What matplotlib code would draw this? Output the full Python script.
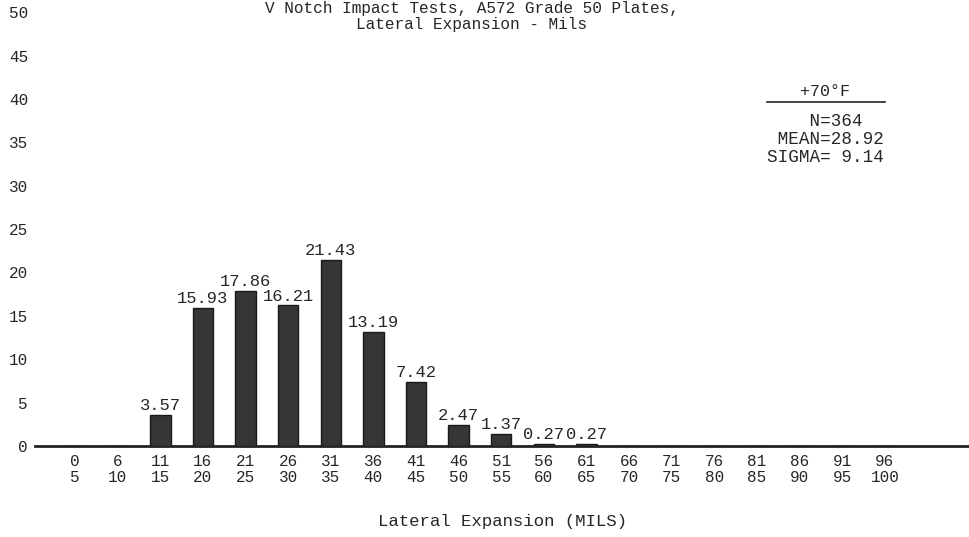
import numpy as np
import matplotlib.pyplot as plt

# Lateral expansion histogram, A572 Grade 50 plates at +70F
bin_low = [0, 6, 11, 16, 21, 26, 31, 36, 41, 46, 51, 56, 61, 66, 71, 76, 81, 86, 91, 96]
bin_high = [5, 10, 15, 20, 25, 30, 35, 40, 45, 50, 55, 60, 65, 70, 75, 80, 85, 90, 95, 100]
percent = [0, 0, 3.57, 15.93, 17.86, 16.21, 21.43, 13.19, 7.42, 2.47, 1.37, 0.27, 0.27,
           0, 0, 0, 0, 0, 0, 0]
y_ticks = [0, 5, 10, 15, 20, 25, 30, 35, 40, 45, 50]

ink = '#262626'
plt.rcParams['font.family'] = ['Liberation Mono', 'DejaVu Sans Mono']

W, H = 970, 537
fig = plt.figure(figsize=(W / 100, H / 100), dpi=100)
ax = fig.add_axes([35 / W, (H - 446) / H, 1 - 35 / W, 446 / H])

x = np.arange(len(percent))
bars = ax.bar(x, percent, width=0.48, color='#363636', edgecolor='#1a1a1a',
              linewidth=1.0, zorder=3)

for xi, v in zip(x, percent):
    if v > 0:
        ax.text(xi, v + 0.2, f'{v:.2f}', ha='center', va='bottom',
                fontsize=12.3, color=ink, zorder=2)

ax.set_xlim(-0.94, 21.0)
ax.set_ylim(0, 51.4)
ax.set_xticks(x)
ax.set_xticklabels([f'{a}\n{b}' for a, b in zip(bin_low, bin_high)],
                   linespacing=1.05)
ax.set_yticks(y_ticks)
ax.tick_params(axis='x', length=0, pad=6, labelsize=11.5, colors=ink)
ax.tick_params(axis='y', length=0, pad=5, labelsize=11.5, colors=ink)

for side in ['top', 'right', 'left']:
    ax.spines[side].set_visible(False)
ax.spines['bottom'].set_linewidth(2.0)
ax.spines['bottom'].set_color('#222222')

ax.set_xlabel('Lateral Expansion (MILS)', fontsize=12.5, color=ink, labelpad=21)

# title sits at the very top edge
fig.text(472 / W, 1 - 9 / H, 'V Notch Impact Tests, A572 Grade 50 Plates,',
         ha='center', va='center', fontsize=11.6, color=ink)
fig.text(472 / W, 1 - 25 / H, 'Lateral Expansion - Mils',
         ha='center', va='center', fontsize=11.6, color=ink)

# temperature block
fig.text(825 / W, 1 - 92 / H, '+70°F', ha='center', va='center',
         fontsize=12, color=ink)
fig.add_artist(plt.Line2D([767 / W, 885 / W], [1 - 102 / H, 1 - 102 / H],
                          color=ink, linewidth=1.2))
fig.text(767 / W, 1 - 121 / H, '    N=364', ha='left', va='center',
         fontsize=12.7, color=ink)
fig.text(767 / W, 1 - 139 / H, ' MEAN=28.92', ha='left', va='center',
         fontsize=12.7, color=ink)
fig.text(767 / W, 1 - 157 / H, 'SIGMA= 9.14', ha='left', va='center',
         fontsize=12.7, color=ink)

fig.savefig('out.png', dpi=100, facecolor='white')
